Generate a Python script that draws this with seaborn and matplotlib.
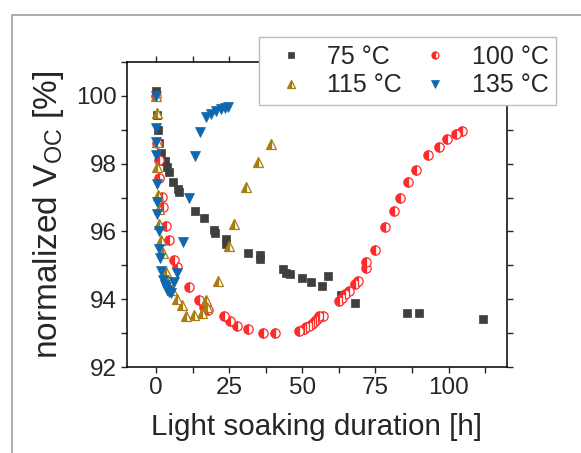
import matplotlib
matplotlib.use('Agg')
import matplotlib.pyplot as plt
import matplotlib.ticker as mticker
from matplotlib.patches import Rectangle
import seaborn as sns
import pandas as pd

# data (x: light soaking duration in h, y: normalized Voc in %)
t_75 = [0, 0.25, 0.6, 0.9, 1.5, 2.9, 3.8, 4.4, 5.7, 7.6, 7.9, 13.3, 16.2, 19.9, 20.1,
        23.7, 23.9, 31.3, 35.4, 35.4, 43.4, 44.4, 45.9, 50.0, 53.0, 56.8, 58.9, 63.2,
        68.0, 85.9, 89.8, 111.8]
v_75 = [100.15, 99.45, 99.0, 98.6, 98.33, 98.09, 97.9, 97.76, 97.45, 97.25, 97.17, 96.6,
        96.39, 96.05, 95.95, 95.78, 95.64, 95.36, 95.3, 95.18, 94.9, 94.78, 94.74, 94.63,
        94.5, 94.4, 94.7, 94.13, 93.9, 93.6, 93.6, 93.42]

t_100 = [0, 0.2, 0.8, 1.1, 2.0, 2.3, 3.2, 4.2, 6.1, 7.2, 11.1, 14.8, 16.5, 17.6, 23.1,
         25.2, 27.5, 31.3, 36.4, 40.5, 48.9, 50.4, 51.4, 52.4, 53.3, 53.9, 54.6, 55.2,
         55.8, 57.1, 62.6, 63.5, 64.7, 66.0, 67.9, 68.9, 71.7, 71.7, 74.8, 78.4, 81.3,
         83.3, 86.3, 88.9, 92.9, 96.6, 99.6, 102.4, 104.7]
v_100 = [100.0, 98.62, 98.11, 97.58, 97.03, 96.71, 96.16, 95.76, 95.17, 94.95, 94.36,
         93.99, 93.77, 93.68, 93.5, 93.36, 93.21, 93.12, 93.0, 93.0, 93.05, 93.12, 93.17,
         93.22, 93.27, 93.32, 93.39, 93.45, 93.5, 93.51, 93.96, 94.03, 94.16, 94.23,
         94.45, 94.55, 94.91, 95.09, 95.45, 96.12, 96.6, 97.0, 97.45, 97.81, 98.25, 98.5,
         98.74, 98.88, 98.97]

t_115 = [0, 0.2, 0.4, 0.4, 0.6, 0.9, 1.1, 1.5, 2.3, 3.4, 4.0, 5.3, 7.2, 8.9, 10.2, 12.8,
         15.7, 17.1, 17.4, 21.2, 25.0, 26.6, 30.7, 34.7, 39.4]
v_115 = [100.0, 99.5, 98.63, 97.91, 97.09, 96.67, 96.23, 95.74, 95.36, 94.8, 94.56, 94.26,
         94.02, 93.84, 93.5, 93.53, 93.58, 93.97, 93.77, 94.53, 95.57, 96.22, 97.3, 98.05,
         98.57]

t_135 = [0, 0, 0, 0, 0.2, 0.3, 0.3, 0.8, 1.1, 1.4, 1.7, 2.3, 2.9, 3.4, 3.8, 4.3, 5.1, 6.2,
         7.0, 9.0, 11.1, 13.1, 15.0, 17.0, 18.6, 20.3, 22.0, 23.5, 24.5]
v_135 = [100.0, 99.05, 98.63, 98.27, 97.4, 96.87, 96.52, 96.02, 95.47, 95.22, 94.84,
         94.58, 94.43, 94.35, 94.28, 94.22, 94.17, 94.5, 94.78, 95.68, 97.0, 98.22, 98.94,
         99.37, 99.47, 99.56, 99.61, 99.65, 99.68]

sns.set_theme(style='ticks')
plt.rcParams.update({
    'font.family': ['Liberation Sans', 'DejaVu Sans'],
    'mathtext.default': 'regular',
    'axes.linewidth': 1.1,
    'xtick.major.width': 1.0,
    'ytick.major.width': 1.0,
    'xtick.minor.width': 1.0,
    'ytick.minor.width': 1.0,
    'xtick.major.size': 4.3,
    'ytick.major.size': 4.3,
    'xtick.minor.size': 4.3,
    'ytick.minor.size': 4.3,
    'axes.edgecolor': 'black',
})

fig = plt.figure(figsize=(5.81, 4.53), dpi=100)
ax = fig.add_axes([0.2186, 0.1898, 0.6540, 0.6733])

# outer grey frame around the graph page
fig.patches.append(Rectangle((12 / 581, -0.1), 1.2, 1.1 - 15 / 453, transform=fig.transFigure,
                             fill=False, edgecolor='#a6a6a6', linewidth=1.3, zorder=0))

series = [
    ('75 °C', t_75, v_75, dict(marker='s', color='#3f3f3f', markersize=6.4,
                               markeredgecolor='#3f3f3f', markeredgewidth=0.5)),
    ('100 °C', t_100, v_100, dict(marker='o', color='#ff2a2a', markersize=6.7, fillstyle='left',
                                  markerfacecoloralt='white', markeredgecolor='#ff2a2a',
                                  markeredgewidth=0.9)),
    ('115 °C', t_115, v_115, dict(marker='^', color='#a87d12', markersize=7.2, fillstyle='left',
                                  markerfacecoloralt='white', markeredgecolor='#a87d12',
                                  markeredgewidth=0.9)),
    ('135 °C', t_135, v_135, dict(marker='v', color='#0f67ae', markersize=7.7,
                                  markeredgecolor='#0f67ae', markeredgewidth=0.5)),
]

handles = {}
for name, t, v, style in series:
    df = pd.DataFrame({'t': t, 'v': v})
    sns.lineplot(data=df, x='t', y='v', estimator=None, sort=False, linestyle='',
                 label=name, ax=ax, **style)
    handles[name] = ax.get_lines()[-1]

ax.set_xlim(-10, 120)
ax.set_ylim(92, 101)
ax.xaxis.set_major_locator(mticker.FixedLocator([0, 25, 50, 75, 100]))
ax.xaxis.set_minor_locator(mticker.FixedLocator([-12.5, 12.5, 37.5, 62.5, 87.5, 112.5]))
ax.yaxis.set_major_locator(mticker.MultipleLocator(2))
ax.yaxis.set_minor_locator(mticker.MultipleLocator(1))
ax.tick_params(which='both', direction='out', top=True, right=True,
               labeltop=False, labelright=False, labelsize=17.5, pad=3)
for s in ax.spines.values():
    s.set_visible(True)

ax.set_xlabel('Light soaking duration [h]', fontsize=21.3)
ax.set_ylabel('normalized V$_{OC}$ [%]', fontsize=24)
ax.xaxis.set_label_coords(0.5, -0.15)
ax.yaxis.set_label_coords(-0.16, 0.5)

order = ['75 °C', '115 °C', '100 °C', '135 °C']
leg = ax.legend([handles[n] for n in order], order, ncol=2, loc='upper right',
                bbox_to_anchor=(556 / 581, 1 - 37 / 453), bbox_transform=fig.transFigure,
                borderaxespad=0, fontsize=18, frameon=True, fancybox=False, framealpha=1,
                edgecolor='#bdbdbd', borderpad=0.3, labelspacing=0.2,
                handlelength=1.9, handletextpad=0.5, columnspacing=0.4,
                markerscale=0.75, numpoints=1)
leg.get_frame().set_linewidth(1.0)
leg.set_zorder(5)

fig.savefig('out.png', dpi=100)
